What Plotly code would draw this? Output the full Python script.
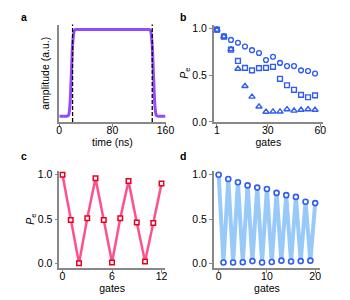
import plotly.graph_objects as go

# Panel a: pulse envelope
pulse_t = [0, 12, 14, 16, 18, 20, 22, 24, 26, 134, 136, 138, 140, 142, 144, 146, 148, 160]
pulse_amp = [0, 0, 0.01, 0.12, 0.45, 0.82, 0.97, 1.0, 1.0, 1.0, 1.0, 0.97, 0.82, 0.45, 0.12, 0.01, 0, 0]
dash_times = [20, 140]

# Panel b
b_gates = [1, 5, 9, 13, 17, 21, 25, 29, 33, 37, 41, 45, 49, 53, 57]
b_circle = [0.99, 0.92, 0.88, 0.85, 0.81, 0.77, 0.74, 0.665, 0.70, 0.634, 0.60, 0.60, 0.554, 0.547, 0.52]
b_square = [0.99, 0.916, 0.776, 0.655, 0.58, 0.554, 0.578, 0.58, 0.592, 0.463, 0.394, 0.345, 0.29, 0.265, 0.285]
b_triangle = [0.99, 0.916, 0.78, 0.57, 0.385, 0.27, 0.164, 0.108, 0.11, 0.11, 0.135, 0.12, 0.13, 0.135, 0.13]

# Panel c
c_gates = list(range(13))
c_pe = [1.0, 0.49, 0.0, 0.51, 0.96, 0.49, 0.01, 0.51, 0.93, 0.46, 0.02, 0.455, 0.90]

# Panel d
d_gates = list(range(21))
d_pe = [1.0, 0.01, 0.952, 0.01, 0.915, 0.012, 0.88, 0.025, 0.855, 0.01, 0.84,
        0.015, 0.795, 0.03, 0.77, 0.02, 0.75, 0.025, 0.695, 0.03, 0.68]

blue = '#2f5cf2'
font = 'Liberation Sans, Arial, sans-serif'

fig = go.Figure()

fig.add_trace(go.Scatter(x=pulse_t, y=pulse_amp, mode='lines', line=dict(color='#9549fb', width=3, shape='spline', smoothing=0.6),
                         xaxis='x', yaxis='y', showlegend=False))

for ys, sym, sz in [(b_circle, 'circle-open', 4.8), (b_square, 'square-open', 4.8), (b_triangle, 'triangle-up-open', 5.5)]:
    fig.add_trace(go.Scatter(x=b_gates, y=ys, mode='markers',
                             marker=dict(symbol=sym, size=sz, color=blue, line=dict(width=1.4, color=blue)),
                             xaxis='x2', yaxis='y2', showlegend=False))

fig.add_trace(go.Scatter(x=c_gates, y=c_pe, mode='lines+markers',
                         line=dict(color='#ff4f8e', width=2.5),
                         marker=dict(symbol='square', size=4.5, color='white', line=dict(width=1.5, color='#e8001a')),
                         xaxis='x3', yaxis='y3', showlegend=False))

fig.add_trace(go.Scatter(x=d_gates, y=d_pe, mode='lines+markers',
                         line=dict(color='rgba(140,195,248,0.9)', width=4),
                         marker=dict(symbol='circle', size=5, color='white', line=dict(width=1.6, color=blue)),
                         xaxis='x4', yaxis='y4', showlegend=False))

for t in dash_times:
    fig.add_shape(type='line', x0=t, x1=t, y0=0, y1=1, xref='x', yref='y domain',
                  line=dict(color='black', width=1.3, dash='4px,2px'))

ax_common = dict(showline=True, linecolor='#888888', linewidth=1.5, ticklen=3,
                 tickcolor='#888888', tickwidth=1.2, showgrid=False, zeroline=False,
                 tickfont=dict(size=10.5, color='black', family=font),
                 title_font=dict(size=10.5, color='black', family=font))

xa = dict(ax_common, ticks='outside', ticklabelstandoff=-5)
ya = dict(ax_common, ticks='outside')

pe = '<i>P</i><sub>e</sub>'
fig.update_layout(
    width=350, height=300, margin=dict(l=0, r=0, t=0, b=0),
    paper_bgcolor='white', plot_bgcolor='white',
    xaxis=dict(domain=[50/350, 160/350], range=[0, 160], tickvals=[0, 80, 160], anchor='y',
               title=dict(text='time (ns)', standoff=0), **xa),
    yaxis=dict(domain=[185/300, 285/300], range=[-0.067, 1.056], anchor='x', showticklabels=False,
               title=dict(text='amplitude (a.u.)', standoff=6), ticks='', **ax_common),
    xaxis2=dict(domain=[210/350, 323/350], range=[-0.8, 61.5], tickvals=[1, 30, 60], anchor='y2',
                title=dict(text='gates', standoff=0), **xa),
    yaxis2=dict(domain=[185/300, 285/300], range=[0, 1.045], tickvals=[0, 0.5, 1.0], tickformat='.1f', anchor='x2',
                title=dict(text=pe, standoff=0), **ya),
    xaxis3=dict(domain=[50/350, 159.3/350], range=[-0.39, 12.4], tickvals=[0, 6, 12], anchor='y3',
                title=dict(text='gates', standoff=0), **xa),
    yaxis3=dict(domain=[35/300, 135/300], range=[-0.052, 1.047], tickvals=[0, 0.5, 1.0], tickformat='.1f', anchor='x3',
                title=dict(text=pe, standoff=0), **ya),
    xaxis4=dict(domain=[210/350, 320/350], range=[-1, 21], tickvals=[0, 10, 20], anchor='y4',
                title=dict(text='gates', standoff=0), **xa),
    yaxis4=dict(domain=[35/300, 135/300], range=[-0.052, 1.047], tickvals=[0, 0.5, 1.0], tickformat='.1f', anchor='x4',
                **ya),
)

for lbl, x, y in [('a', 13/350, 1 - 7/300), ('b', 178/350, 1 - 7/300), ('c', 13/350, 1 - 150/300), ('d', 178/350, 1 - 150/300)]:
    fig.add_annotation(text=f'<b>{lbl}</b>', x=x, y=y, xref='paper', yref='paper', showarrow=False,
                       xanchor='center', yanchor='middle', font=dict(size=10.5, color='black', family=font))

fig.write_html('out.html')
